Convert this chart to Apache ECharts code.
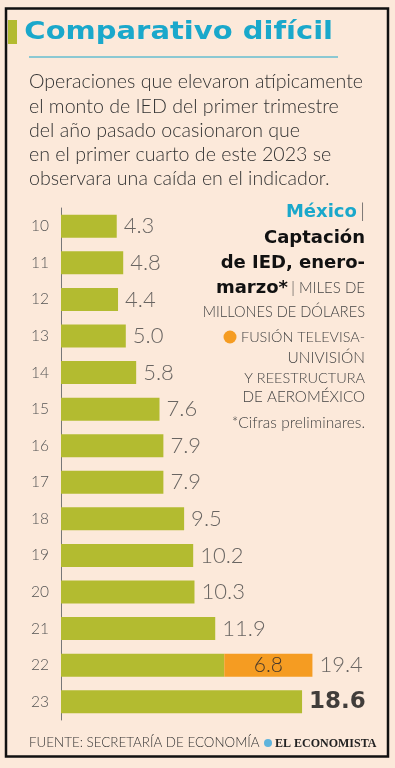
<!DOCTYPE html>
<html><head><meta charset="utf-8">
<script src="https://cdn.jsdelivr.net/npm/echarts@6/dist/echarts.min.js"></script>
<style>html,body{margin:0;padding:0;background:#fce9da;}#c{width:395px;height:768px;}</style>
</head><body><div id="c"></div>
<script>
const categories = ['10','11','12','13','14','15','16','17','18','19','20','21','22','23'];
const totals = [4.3,4.8,4.4,5.0,5.8,7.6,7.9,7.9,9.5,10.2,10.3,11.9,19.4,18.6];
const extraordinary = [null,null,null,null,null,null,null,null,null,null,null,null,6.8,null];
const totalLabels = ['4.3','4.8','4.4','5.0','5.8','7.6','7.9','7.9','9.5','10.2','10.3','11.9','19.4','18.6'];

const GREEN = '#b3bb30', ORANGE = '#f59c22', CYAN = '#1aa8cb';
const FONT = 'Lato';
const BOLD = '"DejaVu Sans"';

const base = totals.map((t,i)=> +(t - (extraordinary[i]||0)).toFixed(1));
const labelPts = totals.map((t,i)=>({
  value:[t, categories[i]],
  label: i===totals.length-1 ? {fontFamily:'DejaVu Sans', fontWeight:'bold', fontSize:23, color:'#111', distance:7} : {}
}));

const chart = echarts.init(document.getElementById('c'), null, {renderer:'canvas'});
chart.setOption({
  backgroundColor:'#fce9da',
  animation:false,
  grid:{left:61, top:208, width:324, height:512, containLabel:false},
  xAxis:{type:'value', min:0, max:25, show:false},
  yAxis:{type:'category', data:categories, inverse:true,
    axisLine:{lineStyle:{color:'#777', width:1}}, axisTick:{show:false},
    axisLabel:{color:'#555', fontFamily:FONT, fontWeight:300, fontSize:15.5, margin:12}},
  series:[
    {type:'bar', stack:'a', data:base, barWidth:23, itemStyle:{color:GREEN}, silent:true},
    {type:'bar', stack:'a', data:extraordinary, barWidth:23, itemStyle:{color:ORANGE}, silent:true,
      label:{show:true, position:'inside', color:'#4a3a2a', fontFamily:FONT, fontWeight:300, fontSize:21,
        formatter:p=>p.value==null?'':p.value.toFixed(1)}},
    {type:'scatter', data:labelPts, symbolSize:0, silent:true,
      label:{show:true, position:'right', distance:7, color:'#444', fontFamily:FONT, fontWeight:300, fontSize:22,
        formatter:p=>totalLabels[p.dataIndex]}}
  ],
  graphic:[
    {type:'rect', shape:{x:6, y:8.5, width:382, height:748}, style:{fill:'none', stroke:'#111', lineWidth:2.5}},
    {type:'rect', shape:{x:8, y:20, width:9, height:24}, style:{fill:GREEN}},
    {type:'text', x:29, y:32, scaleX:1.16, originX:29, style:{text:'Comparativo difícil', fill:CYAN, font:'bold 25px '+BOLD, verticalAlign:'middle'}},
    {type:'line', shape:{x1:29, y1:57, x2:338, y2:57}, style:{stroke:CYAN, lineWidth:1}},
    {type:'text', left:29, top:70, style:{text:'Operaciones que elevaron atípicamente\nel monto de IED del primer trimestre\ndel año pasado ocasionaron que\nen el primer cuarto de este 2023 se\nobservara una caída en el indicador.',
      fill:'#333', font:'300 19.6px '+FONT, lineHeight:24.2}},
    {type:'text', x:365, y:212, style:{text:'{c|México} {l||}', align:'right', verticalAlign:'middle',
      rich:{c:{fill:CYAN, font:'bold 18px '+BOLD}, l:{fill:'#555', font:'300 20px '+FONT}}}},
    {type:'text', x:365, y:238, style:{text:'Captación', fill:'#111', font:'bold 18px '+BOLD, align:'right', verticalAlign:'middle'}},
    {type:'text', x:365, y:263, style:{text:'de IED, enero-', fill:'#111', font:'bold 18px '+BOLD, align:'right', verticalAlign:'middle'}},
    {type:'text', x:365, y:288, style:{text:'{b|marzo*} {l|| MILES DE}', align:'right', verticalAlign:'middle',
      rich:{b:{fill:'#111', font:'bold 18px '+BOLD}, l:{fill:'#444', font:'300 15px '+FONT}}}},
    {type:'text', x:365, y:312, style:{text:'MILLONES DE DÓLARES', fill:'#444', font:'300 14.6px '+FONT, align:'right', verticalAlign:'middle'}},
    {type:'circle', shape:{cx:230, cy:337, r:6.5}, style:{fill:ORANGE}},
    {type:'text', x:365, y:337, style:{text:'FUSIÓN TELEVISA-', fill:'#444', font:'300 14.4px '+FONT, align:'right', verticalAlign:'middle'}},
    {type:'text', x:365, y:358, style:{text:'UNIVISIÓN', fill:'#444', font:'300 15.5px '+FONT, align:'right', verticalAlign:'middle'}},
    {type:'text', x:365, y:378, style:{text:'Y REESTRUCTURA', fill:'#444', font:'300 14.5px '+FONT, align:'right', verticalAlign:'middle'}},
    {type:'text', x:365, y:397, style:{text:'DE AEROMÉXICO', fill:'#444', font:'300 15.2px '+FONT, align:'right', verticalAlign:'middle'}},
    {type:'text', x:365, y:423, style:{text:'*Cifras preliminares.', fill:'#444', font:'300 15.5px '+FONT, align:'right', verticalAlign:'middle'}},
    {type:'text', x:29, y:743, style:{text:'FUENTE: SECRETARÍA DE ECONOMÍA', fill:'#333', font:'300 13.4px '+FONT, verticalAlign:'middle'}},
    {type:'circle', shape:{cx:268, cy:743, r:4}, style:{fill:'#5fb4dc'}},
    {type:'text', x:275, y:743.5, style:{text:'EL ECONOMISTA', fill:'#222', font:'bold 12px "Liberation Serif"', verticalAlign:'middle'}}
  ]
});
</script></body></html>
